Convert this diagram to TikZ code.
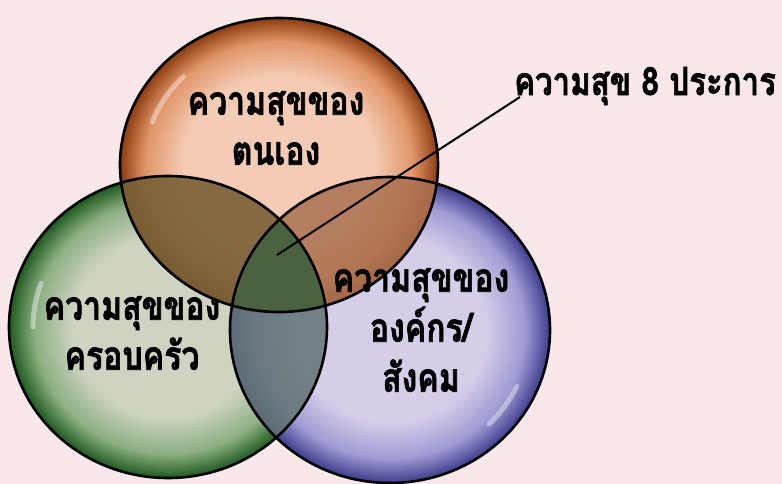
\documentclass[tikz,border=0pt]{standalone}
\usepackage{fontspec}
\newfontfamily\thaifont[Script=Thai,FakeStretch=0.8,BoldFeatures={FakeBold=1.6}]{Loma}
\definecolor{bg}{RGB}{250,231,233}
\definecolor{orin}{RGB}{244,204,182}
\definecolor{ormid}{RGB}{225,150,105}
\definecolor{orout}{RGB}{140,60,15}
\definecolor{grin}{RGB}{206,211,194}
\definecolor{grmid}{RGB}{140,175,130}
\definecolor{grout}{RGB}{30,90,30}
\definecolor{blin}{RGB}{214,206,232}
\definecolor{blmid}{RGB}{160,155,212}
\definecolor{blout}{RGB}{60,60,140}
\definecolor{ogcol}{RGB}{120,95,55}
\definecolor{obcol}{RGB}{170,112,80}
\definecolor{gbcol}{RGB}{98,115,115}
\definecolor{allcol}{RGB}{75,98,65}
\pgfdeclareradialshading{orangeorb}{\pgfpoint{0bp}{0bp}}{color(0bp)=(orin); color(15bp)=(orin); color(21bp)=(ormid); color(25bp)=(orout); color(50bp)=(orout)}
\pgfdeclareradialshading{greenorb}{\pgfpoint{0bp}{0bp}}{color(0bp)=(grin); color(15bp)=(grin); color(21bp)=(grmid); color(25bp)=(grout); color(50bp)=(grout)}
\pgfdeclareradialshading{blueorb}{\pgfpoint{0bp}{0bp}}{color(0bp)=(blin); color(15bp)=(blin); color(21bp)=(blmid); color(25bp)=(blout); color(50bp)=(blout)}
\begin{document}
\begin{tikzpicture}[x=1pt,y=-1pt,
  orb/.style={draw=black,line width=2.6pt},
  glare/.style={draw=white,line width=5pt,line cap=round,draw opacity=0.4},
  lbl/.style={font=\thaifont\bfseries\fontsize{40}{50}\selectfont,align=center,inner sep=0pt,text=black},
  callout/.style={draw=black,line width=2pt}]
\fill[bg] (0,0) rectangle (782,484);
\useasboundingbox (0,0) rectangle (782,484);
\def\ellG{(168,327) ellipse [x radius=159, y radius=151]}
\def\ellB{(390,330) ellipse [x radius=160, y radius=153]}
\def\ellO{(279,165) ellipse [x radius=159, y radius=147]}
% circles
\shade[shading=greenorb] \ellG;
\shade[shading=blueorb] \ellB;
\begin{scope}
  \clip \ellG;
  \fill[gbcol,fill opacity=0.85] \ellB;
\end{scope}
\node[lbl] (fam) at (132,333) {ความสุขของ\\ครอบครัว};
\shade[shading=orangeorb] \ellO;
\begin{scope}
  \clip \ellO;
  \fill[ogcol,fill opacity=0.9] \ellG;
  \fill[obcol,fill opacity=0.85] \ellB;
  \clip \ellG;
  \fill[allcol] \ellB;
\end{scope}
% glare highlights
\draw[glare] (279,165) ++(200:135 and 125) arc[start angle=200, end angle=225, x radius=135, y radius=125];
\draw[glare] (168,327) ++(180:135 and 128) arc[start angle=180, end angle=200, x radius=135, y radius=128];
\draw[glare] (390,330) ++(25:140 and 133) arc[start angle=25, end angle=45, x radius=140, y radius=133];
\node[lbl] (org) at (421,330) {ความสุขของ\\องค์กร/\\สังคม};
\draw[orb] \ellG;
\draw[orb] \ellB;
\draw[orb] \ellO;
\node[lbl] (self) at (276,128) {ความสุขของ\\ตนเอง};
% callout
\node[lbl,anchor=west,font=\thaifont\bfseries\fontsize{39}{46}\selectfont] (eight) at (514,86) {ความสุข 8 ประการ};
\coordinate (tip) at (277,255);
\coordinate (lend) at (520,97);
\draw[callout] (tip) -- (lend);
\end{tikzpicture}
\end{document}
